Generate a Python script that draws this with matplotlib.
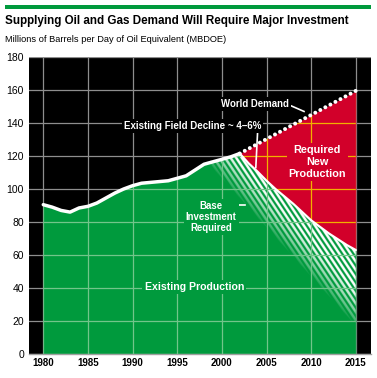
import matplotlib
matplotlib.use('Agg')
import matplotlib.pyplot as plt
import numpy as np
from matplotlib.patches import Rectangle

plt.rcParams['font.family'] = ['Liberation Sans', 'DejaVu Sans']

# 数据
hist_years = list(range(1980, 2003))
hist_prod = [90.5, 89, 87, 86, 88.5, 89.5, 91.5, 94.5, 97.5, 100, 102, 103.5,
             104, 104.5, 105, 106.5, 108, 111.5, 115, 116.5, 118, 119.5, 121.5]
decl_years = list(range(2002, 2016))
decl_prod = [121.5, 115.5, 110.5, 105, 100, 95.5, 91, 86, 81, 77, 73, 69.5, 66, 63]
dem_years = [2002, 2015]
dem_vals = [121.5, 159.5]

x_ticks = [1980, 1985, 1990, 1995, 2000, 2005, 2010, 2015]
y_ticks = [0, 20, 40, 60, 80, 100, 120, 140, 160, 180]

GREEN = '#009a3d'
RED = '#d2002a'
GRID_DARK = '#8e8e8e'
GRID_GREEN = '#72c58a'
GRID_RED = '#f2b000'

W_PX, H_PX = 377, 378
fig = plt.figure(figsize=(W_PX / 100, H_PX / 100), dpi=100)
fig.patch.set_facecolor('white')

ax_l, ax_r, ax_t, ax_b = 29, 371, 57, 354
ax = fig.add_axes([ax_l / W_PX, 1 - ax_b / H_PX, (ax_r - ax_l) / W_PX, (ax_b - ax_t) / H_PX])
ax.set_facecolor('black')
xmin, xmax, ymin, ymax = 1978.4, 2016.7, 0, 180
ax.set_xlim(xmin, xmax)
ax.set_ylim(ymin, ymax)

# 网格（黑底部分）
for xv in x_ticks:
    ax.axvline(xv, color=GRID_DARK, lw=0.9, zorder=1)
for yv in y_ticks:
    ax.axhline(yv, color=GRID_DARK, lw=0.9, zorder=1)

top_x = np.array(hist_years + decl_years[1:], dtype=float)
top_y = np.array(hist_prod + decl_prod[1:], dtype=float)
green = ax.fill_between(top_x, 0, top_y, color=GREEN, lw=0, zorder=2)
dem_interp = np.interp(decl_years, dem_years, dem_vals)
red = ax.fill_between(decl_years, decl_prod, dem_interp, color=RED, lw=0, zorder=2)
green_path = green.get_paths()[0]
red_path = red.get_paths()[0]

# 渐隐斜线阴影
W_ax, H_ax = ax_r - ax_l, ax_b - ax_t
os_ = 3
nx, ny = W_ax * os_, H_ax * os_
PX, PY = np.meshgrid((np.arange(nx) + 0.5) / os_, (np.arange(ny) + 0.5) / os_)


def to_px(x, y):
    return (x - xmin) / (xmax - xmin) * W_ax, (ymax - y) / (ymax - ymin) * H_ax


slope = 1.5
period = 5.6
s = 0.5 + 0.5 * np.cos(2 * np.pi * (slope * PX - PY) / (slope * period))
stripe = np.clip((s - 0.3) / 0.3, 0, 1)
ax0, ay0 = to_px(decl_years[0], decl_prod[0] - 27)
ax1, ay1 = to_px(decl_years[-1], decl_prod[-1] - 46)
dx, dy = ax1 - ax0, ay1 - ay0
nrm = np.hypot(dx, dy)
nxv, nyv = dy / nrm, -dx / nrm
proj = (PX - ax0) * nxv + (PY - ay0) * nyv
fade = np.clip(proj / 24.0, 0, 1) ** 0.7
rgba = np.ones((ny, nx, 4))
rgba[..., 3] = stripe * fade
im = ax.imshow(rgba, extent=[xmin, xmax, ymin, ymax], origin='upper',
               aspect='auto', interpolation='antialiased', zorder=3)
im.set_clip_path(green_path, ax.transData)

# 彩色区域内的网格
for xv in x_ticks:
    ln = ax.axvline(xv, color=GRID_GREEN, lw=0.9, zorder=4)
    ln.set_clip_path(green_path, ax.transData)
    ln = ax.axvline(xv, color=GRID_RED, lw=0.9, zorder=4)
    ln.set_clip_path(red_path, ax.transData)
for yv in y_ticks:
    ln = ax.axhline(yv, color=GRID_GREEN, lw=0.9, zorder=4)
    ln.set_clip_path(green_path, ax.transData)
    ln = ax.axhline(yv, color=GRID_RED, lw=0.9, zorder=4)
    ln.set_clip_path(red_path, ax.transData)

ax.plot(hist_years, hist_prod, color='white', lw=2.5, solid_capstyle='round',
        solid_joinstyle='round', zorder=5)
ax.plot(decl_years, decl_prod, color='white', lw=1.6, solid_capstyle='round', zorder=5)
ax.plot(dem_years, dem_vals, color='white', lw=2.9, dash_capstyle='round',
        linestyle=(0, (0.001, 1.42)), zorder=6)

bold = dict(color='white', fontweight='bold', zorder=7)
ax.text(1996.7, 138, 'Existing Field Decline ~ 4\u20136%', ha='center', va='center',
        fontsize=7, bbox=dict(fc='black', ec='none', pad=1.5), **bold)
ax.plot([2004.0, 2003.8], [134.5, 113], color='white', lw=1.2, zorder=6)
ax.text(2003.7, 151.3, 'World Demand', ha='center', va='center', fontsize=6.9,
        bbox=dict(fc='black', ec='none', pad=1.5), **bold)
ax.plot([2007.8, 2009.2], [150.3, 147], color='white', lw=1.2, zorder=6)
ax.text(2010.7, 116.4, 'Required\nNew\nProduction', ha='center', va='center',
        fontsize=7.8, linespacing=1.25, bbox=dict(fc=RED, ec='none', pad=1.5), **bold)
ax.text(1998.8, 83, 'Base\nInvestment\nRequired', ha='center', va='center',
        fontsize=6.9, linespacing=1.15, bbox=dict(fc=GREEN, ec='none', pad=1.5), **bold)
ax.plot([2000.7, 2002.6], [90.6, 90.6], color='white', lw=1.2, zorder=6)
ax.text(1996.9, 40.8, 'Existing Production', ha='center', va='center', fontsize=7.6,
        bbox=dict(fc=GREEN, ec='none', pad=1.5), **bold)

ax.set_xticks(x_ticks)
ax.set_yticks(y_ticks)
ax.set_xticklabels([str(v) for v in x_ticks], fontweight='bold', fontsize=7)
ax.set_yticklabels([str(v) for v in y_ticks], fontsize=7.5)
ax.tick_params(length=0)
ax.tick_params(axis='y', pad=3.6)
ax.tick_params(axis='x', pad=3)
for side in ['top', 'right', 'left']:
    ax.spines[side].set_visible(False)
ax.spines['bottom'].set_color('#a0a0a0')
ax.spines['bottom'].set_linewidth(1)

fig.add_artist(Rectangle((5 / W_PX, 1 - 9 / H_PX), 366 / W_PX, 4 / H_PX,
                         transform=fig.transFigure, color=GREEN, lw=0))
fig.text(5 / W_PX, 1 - 21 / H_PX, 'Supplying Oil and Gas Demand Will Require Major Investment',
         ha='left', va='center', fontsize=8.4, fontweight='bold', color='black')
fig.text(5 / W_PX, 1 - 40 / H_PX, 'Millions of Barrels per Day of Oil Equivalent (MBDOE)',
         ha='left', va='center', fontsize=6.7, color='black')

fig.savefig('out.png', dpi=100)
